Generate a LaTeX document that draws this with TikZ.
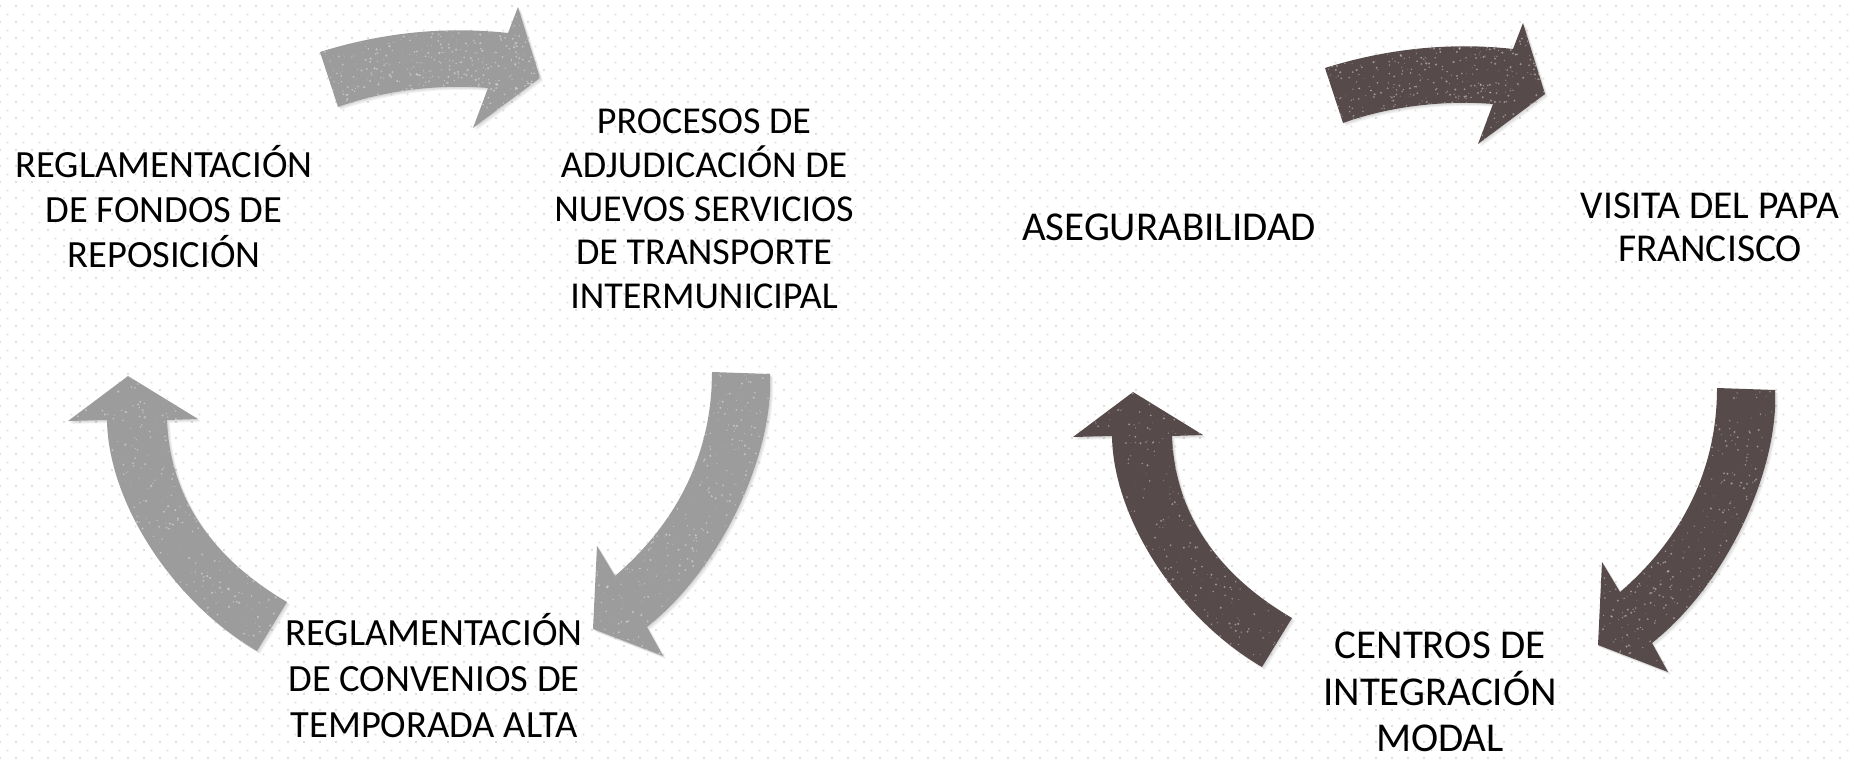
\documentclass[tikz,border=0pt]{standalone}
\usepackage{fontspec}
\setmainfont{Carlito}
\usetikzlibrary{patterns}
\definecolor{dotc}{RGB}{224,221,211}
\definecolor{lightarrow}{RGB}{156,156,156}
\definecolor{darkarrow}{RGB}{86,74,75}
\pgfdeclarepatternformonly{bgdots}{\pgfqpoint{0pt}{0pt}}{\pgfqpoint{16pt}{16pt}}{\pgfqpoint{16pt}{16pt}}{%
  \pgfpathrectangle{\pgfqpoint{0pt}{0pt}}{\pgfqpoint{2pt}{2pt}}%
  \pgfpathrectangle{\pgfqpoint{8pt}{8pt}}{\pgfqpoint{2pt}{2pt}}%
  \pgfusepath{fill}}
\def\pathA{(320,52) .. controls (390,30) and (455,27) .. (508,33) -- (518,7) -- (540,78) -- (473,128) -- (488,88) .. controls (440,84) and (385,90) .. (338,107) -- cycle}
\def\pathB{(712,372) -- (770,374) .. controls (774,450) and (725,565) .. (647,627) -- (663,656) -- (593,629) -- (597,546) -- (615,576) .. controls (680,520) and (712,450) .. (712,372) -- cycle}
\def\pathC{(128,376) -- (198,419) -- (167,420) .. controls (170,500) and (215,560) .. (287,602) -- (257,651) .. controls (170,600) and (108,500) .. (107,420) -- (68,421) -- cycle}
\newcommand\onearrow[6]{%
  \foreach \s in {1,2,3}{\fill[black,opacity=0.05,shift={(\s,\s)}] #1;}
  \fill[#2] #1;
  \begin{scope}
    \clip #1;
    \foreach \k in {1,...,650}{\fill[white,opacity=0.4] ({#3+rnd*#5},{#4+rnd*#6}) circle ({0.3+0.9*rnd});}
  \end{scope}}
\newcommand\cyclearrows[1]{%
  \onearrow{\pathA}{#1}{320}{7}{220}{121}
  \onearrow{\pathB}{#1}{593}{372}{180}{284}
  \onearrow{\pathC}{#1}{68}{376}{220}{276}}
\tikzset{lbl/.style={align=center, inner sep=0pt, text=black}}
\begin{document}
\begin{tikzpicture}[x=1pt,y=-1pt]
\pgfmathsetseed{7}
\useasboundingbox (0,0) rectangle (1855,759);
\fill[white] (0,0) rectangle (1855,759);
\fill[pattern=bgdots, pattern color=dotc] (0,0) rectangle (1855,759);
% left cycle
\begin{scope}
  \cyclearrows{lightarrow}
\end{scope}
% right cycle
\begin{scope}[shift={(1005,16)}]
  \cyclearrows{darkarrow}
\end{scope}
\node[lbl, font=\fontsize{38.5}{45}\selectfont] (t1) at (164,207) {REGLAMENTACIÓN\\DE FONDOS DE\\REPOSICIÓN};
\node[lbl, font=\fontsize{38}{43.75}\selectfont] (t2) at (704,209) {PROCESOS DE\\ADJUDICACIÓN DE\\NUEVOS SERVICIOS\\DE TRANSPORTE\\INTERMUNICIPAL};
\node[lbl, font=\fontsize{38.5}{46}\selectfont] (t3) at (434,676) {REGLAMENTACIÓN\\DE CONVENIOS DE\\TEMPORADA ALTA};
\node[lbl, font=\fontsize{41}{47}\selectfont] (t4) at (1169,227) {ASEGURABILIDAD};
\node[lbl, font=\fontsize{39.5}{43}\selectfont] (t5) at (1710,227) {VISITA DEL PAPA\\FRANCISCO};
\node[lbl, font=\fontsize{41}{46.5}\selectfont] (t6) at (1440,692) {CENTROS DE\\INTEGRACIÓN\\MODAL};
\end{tikzpicture}
\end{document}
